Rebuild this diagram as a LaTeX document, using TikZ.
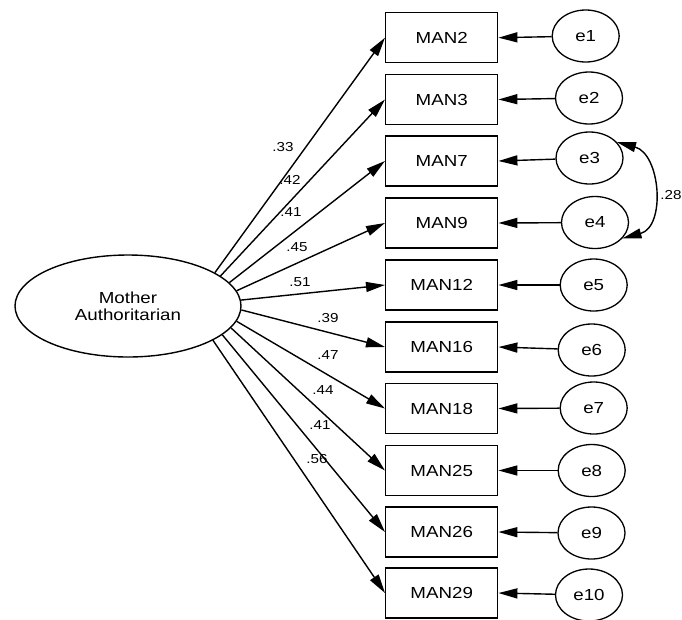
\documentclass[tikz,border=0pt]{standalone}
\usepackage{fontspec}
\setmainfont{Liberation Sans}[FakeStretch=1.17]
\usetikzlibrary{arrows.meta,shapes.geometric}
\tikzset{
  item/.style={draw,line width=1.4pt,minimum width=112pt,minimum height=50pt,inner sep=0pt,font=\fontsize{16}{19}\selectfont},
  err/.style={draw,ellipse,line width=1.3pt,minimum width=67pt,minimum height=52pt,inner sep=0pt,font=\fontsize{16}{19}\selectfont},
  latent/.style={draw,ellipse,line width=1.4pt,minimum width=226pt,minimum height=102pt,inner sep=0pt,align=center,font=\fontsize{16}{17}\selectfont},
  path/.style={line width=1.4pt,-{Triangle[length=19pt,width=10pt]}},
  coef/.style={font=\fontsize{13}{15}\selectfont,inner sep=0pt}
}
\begin{document}
\begin{tikzpicture}[x=1pt,y=1pt]
      \useasboundingbox (0,0) rectangle (682,-619);
      \node[latent] (ma) at (128,-306) {Mother\\Authoritarian};
      \draw
        (441.7,-37.7) node[item] (m2){MAN2}
        (441.7,-99.5) node[item] (m3){MAN3}
        (441.7,-161) node[item] (m7){MAN7}
        (441.7,-223) node[item] (m9){MAN9}
        (441.7,-285) node[item] (m12){MAN12}
        (441.7,-347) node[item] (m16){MAN16}
        (441.7,-408.5) node[item] (m18){MAN18}
        (441.7,-470.5) node[item] (m25){MAN25}
        (441.7,-532) node[item] (m26){MAN26}
        (441.7,-593) node[item] (m29){MAN29};
      \draw
        (585.7,-36) node[err] (e1){e1}
        (589,-98) node[err] (e2){e2}
        (589.5,-158) node[err] (e3){e3}
        (595,-222.5) node[err] (e4){e4}
        (593.7,-285) node[err] (e5){e5}
        (591.7,-350) node[err] (e6){e6}
        (593.7,-408) node[err] (e7){e7}
        (591.7,-470.5) node[err] (e8){e8}
        (591.5,-533) node[err] (e9){e9}
        (589,-595) node[err] (e10){e10};
      \begin{scope}[path]
        \draw (ma.21.9) to (m2.west);
        \draw (ma.18.3) to (m3.west);
        \draw (ma.13.1) to (m7.west);
        \draw (ma.8.4) to (m9.west);
        \draw (ma.3) to (m12.west);
        \draw (ma.-2.4) to (m16.west);
        \draw (ma.-8.1) to (m18.west);
        \draw (ma.-12.7) to (m25.west);
        \draw (ma.-17.5) to (m26.west);
        \draw (ma.-22.3) to (m29.west);
        \draw (e1) to (m2.east);
        \draw (e2) to (m3.east);
        \draw (e3) to (m7.east);
        \draw (e4) to (m9.east);
        \draw (e5) to (m12.east);
        \draw (e6) to (m16.east);
        \draw (e7) to (m18.east);
        \draw (e8) to (m25.east);
        \draw (e9) to (m26.east);
        \draw (e10) to (m29.east);
      \end{scope}
      \draw[line width=1.4pt,{Triangle[length=19pt,width=10pt]}-{Triangle[length=19pt,width=10pt]}]
        (e3.30) to[out=-15,in=15,looseness=1.2] (e4.-30);
      \draw
        (283,-147) node[coef] (c2){.33}
        (290,-180) node[coef] (c3){.42}
        (291,-212) node[coef] (c7){.41}
        (297,-247) node[coef] (c9){.45}
        (300,-282) node[coef] (c12){.51}
        (328,-318) node[coef] (c16){.39}
        (328,-355) node[coef] (c18){.47}
        (323,-390) node[coef] (c25){.44}
        (320,-425) node[coef] (c26){.41}
        (317,-459) node[coef] (c29){.56}
        (671,-195) node[coef] (r34){.28};
    \end{tikzpicture}
\end{document}
